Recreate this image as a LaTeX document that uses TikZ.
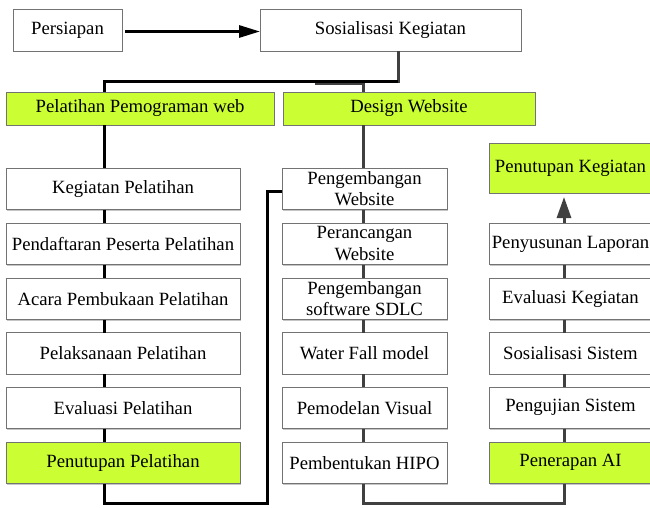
\documentclass[tikz,border=0pt]{standalone}
\usepackage{fontspec}
\setmainfont{Liberation Serif}
\usetikzlibrary{shadows,arrows.meta}
\definecolor{hijau}{RGB}{204,255,51}
\begin{document}
\begin{tikzpicture}[x=1pt,y=-1pt,
  box/.style={draw=black!55, line width=0.8pt, fill=white, inner sep=0pt, outer sep=0pt,
    align=center, font=\fontsize{18.7}{21.7}\selectfont,
    drop shadow={shadow xshift=1.4pt, shadow yshift=-1.4pt, fill=black!45, opacity=0.5}},
  gbox/.style={box, fill=hijau},
  lcol/.style={minimum width=234pt, minimum height=41.5pt},
  mcol/.style={minimum width=165pt, minimum height=41.5pt},
  rcol/.style={minimum width=163pt, minimum height=41.5pt},
  blk/.style={line width=3pt, black},
  dgr/.style={line width=3pt, black!75},
]
\useasboundingbox (0,0) rectangle (650,508);

% top row
\node[box, minimum width=109pt, minimum height=42pt] (pers) at (67.5,30) {Persiapan};
\node[box, minimum width=261pt, minimum height=42pt] (sos) at (390.5,30) {Sosialisasi Kegiatan};
\node[gbox, minimum width=268pt, minimum height=33pt] (pw) at (140,108.5) {Pelatihan Pemograman web};
\node[gbox, minimum width=252pt, minimum height=33pt] (dw) at (409,108.5) {Design Website};

% left column
\node[box, lcol] (l1) at (123,188.75) {Kegiatan Pelatihan};
\node[box, lcol] (l2) at (123,243.75) {Pendaftaran Peserta Pelatihan};
\node[box, lcol] (l3) at (123,298.75) {Acara Pembukaan Pelatihan};
\node[box, lcol] (l4) at (123,353.25) {Pelaksanaan Pelatihan};
\node[box, lcol] (l5) at (123,407.75) {Evaluasi Pelatihan};
\node[gbox, lcol] (l6) at (123,462.75) {Penutupan Pelatihan};

% middle column
\node[box, mcol] (m1) at (364.5,188.75) {Pengembangan\\Website};
\node[box, mcol] (m2) at (364.5,243.75) {Perancangan\\Website};
\node[box, mcol] (m3) at (364.5,298.75) {Pengembangan\\software SDLC};
\node[box, mcol] (m4) at (364.5,353.25) {Water Fall model};
\node[box, mcol] (m5) at (364.5,407.75) {Pemodelan Visual};
\node[box, mcol] (m6) at (364.5,462.75) {Pembentukan HIPO};

% right column
\node[gbox, minimum width=163pt, minimum height=50pt] (r1) at (570.5,168) {Penutupan Kegiatan};
\node[box, rcol] (r2) at (570.5,244) {Penyusunan Laporan};
\node[box, rcol] (r3) at (570.5,298.75) {Evaluasi Kegiatan};
\node[box, rcol] (r4) at (570.5,353.25) {Sosialisasi Sistem};
\node[box, rcol] (r5) at (570.5,407.75) {Pengujian Sistem};
\node[gbox, rcol] (r6) at (570.5,462.75) {Penerapan AI};

% helper coordinates
\coordinate (xL) at (104,0);
\coordinate (xM) at (363.5,0);
\coordinate (xR) at (564,0);
\coordinate (j1) at (398,81.5);
\coordinate (j2) at (104,81.5);
\coordinate (j3) at (315,84);
\coordinate (b1) at (104,503.5);
\coordinate (b2) at (267,503.5);
\coordinate (b3) at (267,191);
\coordinate (c1) at (363.5,503.5);
\coordinate (c2) at (564,503.5);

% top arrow
\draw[blk, -{Triangle[length=21pt,width=12pt]}] ([shift={(3pt,-1.5pt)}]pers.east) -- ([yshift=-1.5pt]sos.west);

% branch from Sosialisasi
\draw[dgr] (sos.south -| j1) -- ([yshift=-1.5pt]j1);
\draw[dgr] (j3) -| (dw.north -| xM);
\draw[blk] (j1) -- (j2) -- (pw.north -| j2);

% left chain
\draw[blk] (pw.south -| xL) -- (l1.north -| xL);
\draw[blk] (l1.south -| xL) -- (l2.north -| xL);
\draw[blk] (l2.south -| xL) -- (l3.north -| xL);
\draw[blk] (l3.south -| xL) -- (l4.north -| xL);
\draw[blk] (l4.south -| xL) -- (l5.north -| xL);
\draw[blk] (l5.south -| xL) -- (l6.north -| xL);
\draw[blk] (l6.south -| xL) -- (b1) -- (b2) -- (b3) -- (m1.west |- b3);

% middle chain
\draw[dgr] (dw.south -| xM) -- (m1.north -| xM);
\draw[dgr] (m1.south -| xM) -- (m2.north -| xM);
\draw[dgr] (m2.south -| xM) -- (m3.north -| xM);
\draw[dgr] (m3.south -| xM) -- (m4.north -| xM);
\draw[dgr] (m4.south -| xM) -- (m5.north -| xM);
\draw[dgr] (m5.south -| xM) -- (m6.north -| xM);
\draw[dgr] (m6.south -| xM) -- (c1) -- (c2) -- (r6.south -| xR);

% right chain
\draw[dgr] (r6.north -| xR) -- (r5.south -| xR);
\draw[dgr] (r5.north -| xR) -- (r4.south -| xR);
\draw[dgr] (r4.north -| xR) -- (r3.south -| xR);
\draw[dgr] (r3.north -| xR) -- (r2.south -| xR);
\draw[dgr, -{Triangle[length=21pt,width=14pt]}, shorten >=4pt] (r2.north -| xR) -- (r1.south -| xR);
\end{tikzpicture}
\end{document}
